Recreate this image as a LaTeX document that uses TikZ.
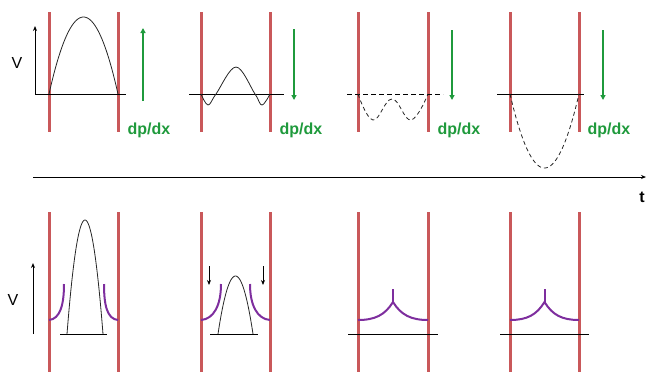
\documentclass[tikz,border=0pt]{standalone}
\usepackage{fontspec}
\setmainfont{Liberation Sans}
\usepackage{tikz}
\usetikzlibrary{arrows.meta, positioning}
\definecolor{wallred}{HTML}{C9585A}
\definecolor{fieldgreen}{HTML}{1F9A3C}
\definecolor{densitypurple}{HTML}{7E2E9E}

\begin{document}
\begin{tikzpicture}[x=1pt, y=-1pt,
        wall/.style={line width=3pt, wallred},
        base/.style={line width=1pt, black},
        prof/.style={line width=0.8pt, black!85},
        dprof/.style={line width=0.8pt, black!85, dash pattern=on 4pt off 3pt},
        grad/.style={-{Triangle[length=5pt,width=5pt]}, line width=2pt, fieldgreen},
        gradlabel/.style={font=\bfseries\fontsize{16}{18}\selectfont, text=fieldgreen},
        dens/.style={line width=2pt, densitypurple},
        vaxis/.style={-{Stealth[length=5pt,width=4pt]}, line width=0.9pt, black}]
    \useasboundingbox (0,0) rectangle (648,373);

    % walls of every panel
    \foreach \xl/\xr in {49/118, 201/270, 358/428, 510/579} {
        \draw[wall] (\xl,12) -- (\xl,132);
        \draw[wall] (\xl,212) -- (\xl,372);
        \draw[wall] (\xr,12) -- (\xr,132);
        \draw[wall] (\xr,212) -- (\xr,372);
    }

    % top row: potential profiles
    \coordinate (vtop0) at (35,94);
    \coordinate (vtop1) at (35,26);
    \draw[vaxis] (vtop0) -- (vtop1);
    \node[font=\fontsize{16}{18}\selectfont] (vlabeltop) at (17,63) {V};
    \draw[base] (35,94) -- (126,94);
    \draw[prof] plot[domain=49:118, samples=60] (\x, {94-77*(1-((\x-83.5)/34.5)^2)});

    \draw[base] (189,94) -- (284,94);
    \draw[prof] plot[smooth, tension=0.6] coordinates {(201,94) (208,105) (216,94) (236,67) (255,94) (262,105) (270,94)};

    \draw[base, dash pattern=on 5pt off 3pt] (347,94) -- (443,94);
    \draw[dprof] plot[smooth, tension=0.7] coordinates {(358,94) (373,120) (392,99) (411,120) (428,94)};

    \draw[base] (497,94) -- (584,94);
    \draw[dprof] plot[domain=510:579, samples=60] (\x, {94+74*(1-((\x-544.5)/34.5)^2)});

    % pressure gradient arrows
    \foreach \gx/\lx/\ya/\yb [count=\i] in {143/149/101/28, 294/301/29/100, 452/459/30/100, 603/609/30/100} {
        \coordinate (g\i a) at (\gx,\ya);
        \coordinate (g\i b) at (\gx,\yb);
        \draw[grad] (g\i a) -- (g\i b);
        \node[gradlabel] (dpdx\i) at (\lx,130) {dp/dx};
    }

    % time axis
    \coordinate (tstart) at (33,177);
    \coordinate (tend) at (646,177);
    \draw[-{Stealth[length=5pt,width=4pt]}, line width=1pt] (tstart) -- (tend);
    \node[font=\bfseries\fontsize{16}{18}\selectfont] (tlabel) at (642,197) {t};

    % bottom row: density profiles
    \coordinate (vbot0) at (33,334);
    \coordinate (vbot1) at (33,263);
    \draw[vaxis] (vbot0) -- (vbot1);
    \node[font=\fontsize{16}{18}\selectfont] (vlabelbot) at (13,300) {V};

    \draw[base] (60,334) -- (107,334);
    \draw[prof] plot[domain=67:103, samples=60] (\x, {334-114*(1-((\x-85)/18)^2)});
    \draw[dens] (49,320) .. controls (60,319) and (64,305) .. (64,284);
    \draw[dens] (118,320) .. controls (107,319) and (104,305) .. (104,284);

    \draw[base] (210,334) -- (258,334);
    \draw[prof] plot[domain=218:253, samples=60] (\x, {334-58*(1-((\x-235.5)/17.5)^2)});
    \draw[dens] (201,320) .. controls (214,319) and (221,305) .. (221,284);
    \draw[dens] (270,320) .. controls (257,319) and (250,305) .. (250,284);
    \foreach \ax [count=\i] in {209, 263} {
        \coordinate (push\i a) at (\ax,266);
        \coordinate (push\i b) at (\ax,285);
        \draw[-{Stealth[length=5pt,width=4pt]}, line width=0.9pt] (push\i a) -- (push\i b);
    }

    \foreach \xl/\xr in {358/428, 510/579} {
        \draw[base] ({\xl-10},334) -- ({\xr+10},334);
        \draw[dens] (\xl,320) .. controls ({\xl+17},320) and ({(\xl+\xr)/2-8},315) .. ({(\xl+\xr)/2},302)
            .. controls ({(\xl+\xr)/2+8},315) and ({\xr-17},320) .. (\xr,320);
        \draw[dens] ({(\xl+\xr)/2},302) -- ({(\xl+\xr)/2},289);
    }
\end{tikzpicture}
\end{document}
